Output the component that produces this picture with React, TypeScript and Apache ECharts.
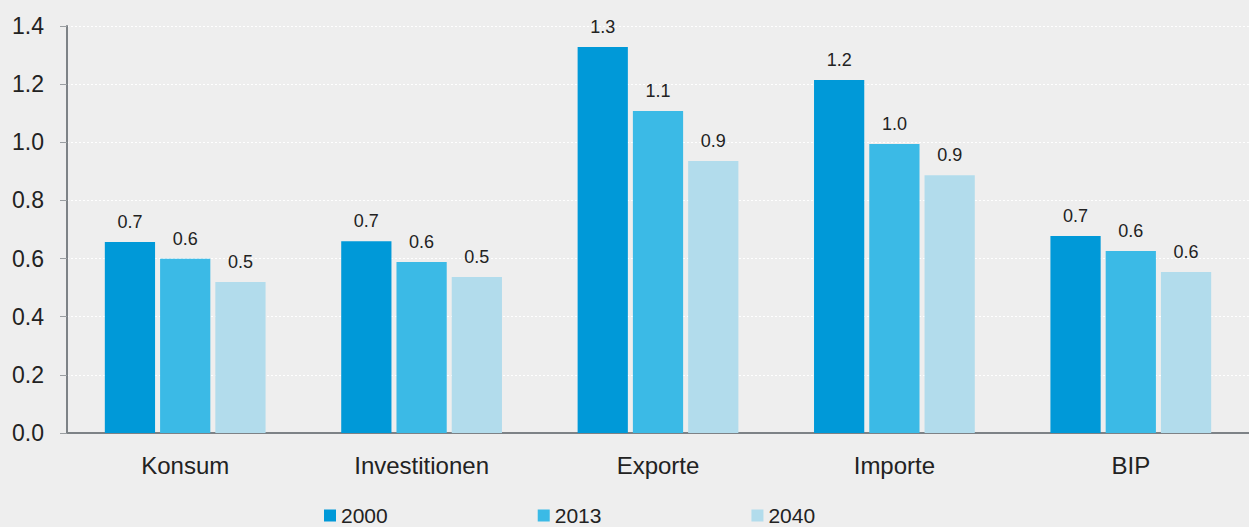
import React, { useEffect, useRef } from "react";
import * as echarts from "echarts";

const categories = ["Konsum", "Investitionen", "Exporte", "Importe", "BIP"];
const seriesNames = ["2000", "2013", "2040"];
const values2000 = [0.657, 0.66, 1.328, 1.214, 0.678];
const values2013 = [0.599, 0.588, 1.108, 0.994, 0.626];
const values2040 = [0.519, 0.537, 0.936, 0.887, 0.554];
const colors = ["#0099d8", "#3bbae6", "#b2dcec"];

export default function App() {
  const ref = useRef<HTMLDivElement>(null);
  useEffect(() => {
    if (!ref.current) return;
    const chart = echarts.init(ref.current, null, { renderer: "svg" });
    const font = "'Liberation Sans', Arial, Helvetica, sans-serif";
    const all = [values2000, values2013, values2040];
    chart.setOption({
      animation: false,
      backgroundColor: "#eeeeee",
      textStyle: { fontFamily: font },
      grid: { left: 67, right: 0, top: 26, bottom: 94, containLabel: false },
      legend: {
        top: 505,
        left: 324,
        padding: 0,
        itemWidth: 12,
        itemHeight: 12,
        itemGap: 150,
        icon: "rect",
        textStyle: { fontSize: 21, lineHeight: 20, color: "#222", fontFamily: font },
        data: seriesNames,
      },
      xAxis: {
        type: "category",
        data: categories,
        axisLine: { lineStyle: { color: "#7d8286", width: 2 } },
        axisTick: { show: false },
        axisLabel: { fontSize: 24, color: "#222", margin: 20, fontFamily: font },
      },
      yAxis: {
        type: "value",
        min: 0,
        max: 1.4,
        interval: 0.2,
        axisLine: { show: true, lineStyle: { color: "#7d8286", width: 2 } },
        axisTick: { show: true, length: 7, lineStyle: { color: "#9a9ea1", width: 1 } },
        splitLine: { show: true, lineStyle: { color: "#ffffff", type: [2, 2], width: 1 } },
        axisLabel: {
          fontSize: 23,
          color: "#222",
          margin: 23,
          fontFamily: font,
          formatter: (v: number) => v.toFixed(1),
        },
      },
      series: seriesNames.map((name, i) => ({
        name,
        type: "bar",
        data: all[i],
        barGap: "10%",
        barCategoryGap: "32%",
        itemStyle: { color: colors[i] },
        label: {
          show: true,
          position: "top",
          distance: 11,
          fontSize: 18,
          color: "#222",
          fontFamily: font,
          formatter: (p: any) => Number(p.value).toFixed(1),
        },
      })),
    });
    return () => chart.dispose();
  }, []);
  return <div ref={ref} style={{ width: 1249, height: 527, position: "absolute", left: 0, top: 0 }} />;
}
